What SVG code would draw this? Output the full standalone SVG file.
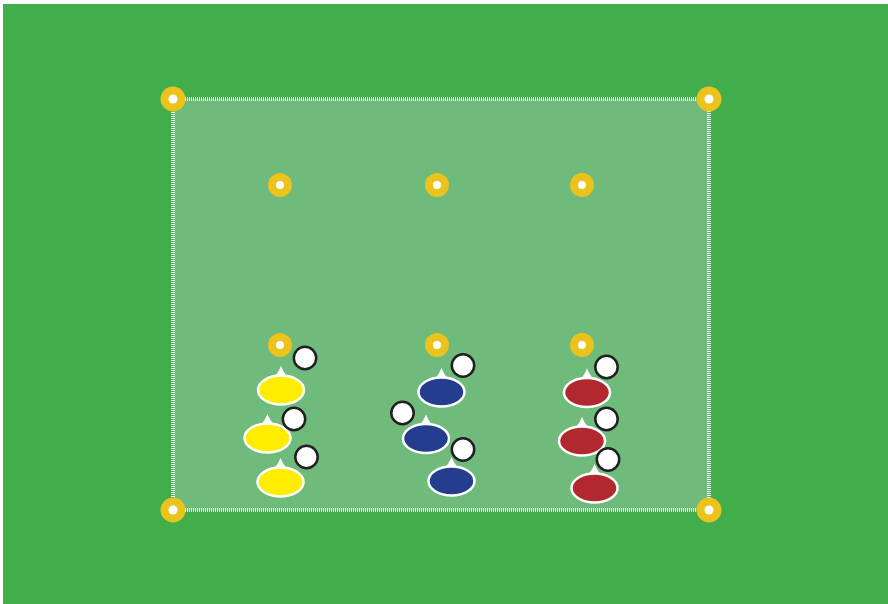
<svg xmlns="http://www.w3.org/2000/svg" xmlns:xlink="http://www.w3.org/1999/xlink" width="888" height="604" viewBox="0 0 888 604">
<style>
.cone{fill:#ecc21c}
.hole{fill:#ffffff}
.ball{fill:#ffffff;stroke:#231f20;stroke-width:2.5}
.body{stroke:#ffffff;stroke-width:2.5}
.nose{fill:#ffffff}
.y{fill:#ffed00}
.b{fill:#253d8e}
.r{fill:#b1282f}
</style>
<defs>
<g id="pl">
<path class="nose" d="M-11,-10 Q-4,-14 0,-24 Q4,-14 11,-10 Z"/>
<ellipse class="body" cx="0" cy="0" rx="23" ry="14.5"/>
</g>
</defs>
<rect x="0" y="0" width="888" height="604" fill="#ffffff"/>
<rect x="3" y="4" width="885" height="600" fill="#42ae4b"/>
<g id="field">
<rect x="173" y="99" width="536" height="411" fill="#6fbb7c"/>
<rect x="173" y="99" width="536" height="411" fill="none" stroke="#ffffff" stroke-width="4" stroke-dasharray="1,1"/>
</g>
<g id="cones">
<g id="cone-tl"><circle class="cone" cx="173" cy="99" r="12.5"/><circle class="hole" cx="173" cy="99" r="4.5"/></g>
<g id="cone-tr"><circle class="cone" cx="709" cy="99" r="12.5"/><circle class="hole" cx="709" cy="99" r="4.5"/></g>
<g id="cone-bl"><circle class="cone" cx="173" cy="510" r="12.5"/><circle class="hole" cx="173" cy="510" r="4.5"/></g>
<g id="cone-br"><circle class="cone" cx="709" cy="510" r="12.5"/><circle class="hole" cx="709" cy="510" r="4.5"/></g>
<g id="cone-1"><circle class="cone" cx="280" cy="185" r="12"/><circle class="hole" cx="280" cy="185" r="4"/></g>
<g id="cone-2"><circle class="cone" cx="437" cy="185" r="12"/><circle class="hole" cx="437" cy="185" r="4"/></g>
<g id="cone-3"><circle class="cone" cx="582" cy="185" r="12"/><circle class="hole" cx="582" cy="185" r="4"/></g>
<g id="cone-4"><circle class="cone" cx="280" cy="345" r="12"/><circle class="hole" cx="280" cy="345" r="4"/></g>
<g id="cone-5"><circle class="cone" cx="437" cy="345" r="12"/><circle class="hole" cx="437" cy="345" r="4"/></g>
<g id="cone-6"><circle class="cone" cx="582" cy="345" r="12"/><circle class="hole" cx="582" cy="345" r="4"/></g>
</g>
<g id="players">
<use id="y1" xlink:href="#pl" class="y" x="281" y="390"/>
<use id="y2" xlink:href="#pl" class="y" x="267.5" y="438"/>
<use id="y3" xlink:href="#pl" class="y" x="280.5" y="482"/>
<use id="b1" xlink:href="#pl" class="b" x="441.5" y="392"/>
<use id="b2" xlink:href="#pl" class="b" x="426" y="438.5"/>
<use id="b3" xlink:href="#pl" class="b" x="451.5" y="481"/>
<use id="r1" xlink:href="#pl" class="r" x="587" y="392.5"/>
<use id="r2" xlink:href="#pl" class="r" x="582" y="441"/>
<use id="r3" xlink:href="#pl" class="r" x="594.5" y="488"/>
</g>
<g id="balls">
<circle class="ball" cx="305" cy="358" r="11.2"/>
<circle class="ball" cx="294" cy="419" r="11.2"/>
<circle class="ball" cx="306.5" cy="457" r="11.2"/>
<circle class="ball" cx="463" cy="365.5" r="11.2"/>
<circle class="ball" cx="402.5" cy="413" r="11.2"/>
<circle class="ball" cx="463" cy="449.5" r="11.2"/>
<circle class="ball" cx="606.5" cy="367" r="11.2"/>
<circle class="ball" cx="606.5" cy="419" r="11.2"/>
<circle class="ball" cx="608" cy="459.5" r="11.2"/>
</g>
</svg>
